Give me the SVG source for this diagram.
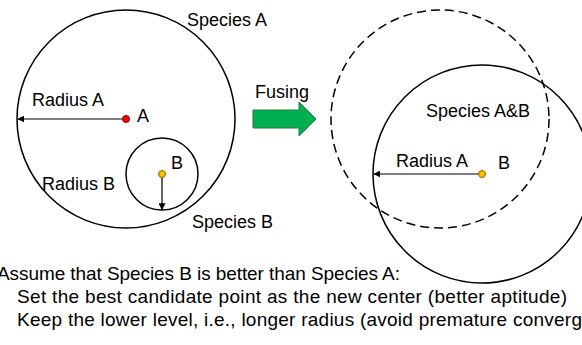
<svg xmlns="http://www.w3.org/2000/svg" width="582" height="345" viewBox="0 0 582 345">
  <style>
    .ring { fill: none; stroke: #000; stroke-width: 1.5; }
    .dash { stroke-dasharray: 9 5; }
    .ptr { stroke: #000; stroke-width: 1.2; fill: none; marker-end: url(#tip); }
    .lbl { font-family: "Liberation Sans", Arial, sans-serif; font-size: 18px; fill: #000; }
    .note { font-family: "Liberation Sans", Arial, sans-serif; font-size: 19px; fill: #000; }
    .red { fill: #ff0000; stroke: #8b0000; stroke-width: 1; }
    .gold { fill: #ffc000; stroke: #8a6400; stroke-width: 1; }
  </style>
  <defs>
    <marker id="tip" viewBox="0 0 10 10" refX="9" refY="5" markerWidth="7" markerHeight="7" markerUnits="userSpaceOnUse" orient="auto">
      <path d="M0,0 L10,5 L0,10 z" fill="#000"/>
    </marker>
  </defs>

  <!-- species A with its radius -->
  <g id="species-a">
    <circle class="ring" cx="126" cy="119" r="109"/>
    <text class="lbl" x="187" y="26">Species A</text>
    <text class="lbl" x="32" y="106">Radius A</text>
    <text class="lbl" x="137" y="122">A</text>
  </g>

  <!-- species B nested inside A -->
  <g id="species-b">
    <circle class="ring" cx="162" cy="174" r="36"/>
    <text class="lbl" x="171" y="169">B</text>
    <text class="lbl" x="42" y="190">Radius B</text>
    <text class="lbl" x="192" y="228">Species B</text>
  </g>

  <!-- fusing step -->
  <g id="fusing">
    <text class="lbl" x="255" y="98">Fusing</text>
    <path d="M253,110 H299 V102 L316,119 L299,136 V128 H253 Z" fill="#00b050" stroke="#2a7a3a" stroke-width="1"/>
  </g>

  <!-- fused species A&B -->
  <g id="species-ab">
    <circle class="ring dash" cx="440" cy="119" r="109"/>
    <circle class="ring" cx="482" cy="174" r="109"/>
    <text class="lbl" x="426" y="117">Species A&amp;B</text>
    <text class="lbl" x="396" y="167">Radius A</text>
    <text class="lbl" x="498" y="169">B</text>
  </g>

  <!-- radius pointers -->
  <g id="connectors">
    <line class="ptr" x1="126" y1="119" x2="18" y2="119"/>
    <line class="ptr" x1="162" y1="174" x2="162" y2="209.5"/>
    <line class="ptr" x1="482" y1="174" x2="374" y2="174"/>
  </g>

  <!-- centre points -->
  <g id="centres">
    <circle class="red" cx="126" cy="119" r="3.5"/>
    <circle class="gold" cx="162" cy="174" r="3.5"/>
    <circle class="gold" cx="482" cy="174" r="3.5"/>
  </g>

  <!-- explanatory notes -->
  <g id="notes">
    <text class="note" x="-3" y="280" textLength="403">Assume that Species B is better than Species A:</text>
    <text class="note" x="17" y="303" textLength="550">Set the best candidate point as the new center (better aptitude)</text>
    <text class="note" x="17" y="326" textLength="565">Keep the lower level, i.e., longer radius (avoid premature converg</text>
  </g>
</svg>
